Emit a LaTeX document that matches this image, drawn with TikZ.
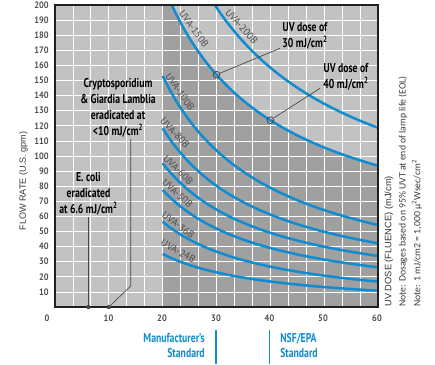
\documentclass[tikz,border=0pt]{standalone}
\usepackage{fontspec}
\setmainfont{PT Sans}
\newfontfamily\condf[FakeStretch=0.76]{PT Sans}
\newfontfamily\tickf[FakeStretch=0.9]{PT Sans}
\newfontfamily\arialf{Liberation Sans}
\newfontfamily\calibf{Carlito}
\definecolor{uvblue}{RGB}{18,140,208}
\definecolor{lightbg}{RGB}{194,194,194}
\definecolor{darkbg}{RGB}{160,160,160}
\definecolor{tickgray}{RGB}{80,80,80}
\definecolor{lblgray}{RGB}{78,78,78}
\definecolor{leadgray}{RGB}{70,70,70}
\definecolor{notegray}{RGB}{60,60,60}
\begin{document}
\begin{tikzpicture}[x=0.75pt,y=-0.75pt,
  gridline/.style={draw=white,line width=0.6pt},
  uvcurve/.style={draw=uvblue,line width=1.9pt},
  curvelbl/.style={text=lblgray,font=\fontsize{7.5}{8}\selectfont,inner sep=0pt},
  annot/.style={font=\condf\bfseries\fontsize{9.6}{12}\selectfont,align=center,inner sep=0pt,text=black},
  ticklbl/.style={font=\tickf\bfseries\fontsize{7}{8}\selectfont,text=tickgray,inner sep=0pt},
  leader/.style={draw=leadgray,line width=0.5pt},
  marker/.style={circle,draw=leadgray,line width=0.6pt,minimum size=5pt,inner sep=0pt},
  dotmark/.style={circle,fill=leadgray,minimum size=3.2pt,inner sep=0pt},
  stdlbl/.style={text=uvblue,font=\condf\bfseries\fontsize{9.6}{11.7}\selectfont,inner sep=0pt},
  stdbar/.style={draw=uvblue,line width=1pt},
  frameline/.style={draw=black!88,line width=1.1pt},
  notelbl/.style={rotate=90,anchor=west,inner sep=0pt,text=notegray}]
\useasboundingbox (0,0) rectangle (435,364);
\fill[white] (0,0) rectangle (435,364);

\begin{scope}[shift={(55,307)},x=4.0373pt,y=1.1325pt]
  \fill[lightbg] (0,0) rectangle (60,200);
  \fill[darkbg] (20,0) -- (20,200) -- plot[domain=21.7:60,samples=60] (\x,{3617/\x+33.3}) -- (60,0) -- cycle;
  \foreach \i in {1,...,17} \draw[gridline] ({\i*10/3},0) -- ({\i*10/3},200);
  \foreach \j in {10,20,...,190} \draw[gridline] (0,\j) -- (60,\j);
  \draw[uvcurve] plot[domain=29.72:60,samples=60] (\x,{4781/\x+39});
  \draw[uvcurve] plot[domain=21.7:60,samples=60] (\x,{3617/\x+33.3});
  \draw[uvcurve] plot[domain=20:60,samples=60] (\x,{2961/\x+4.95});
  \draw[uvcurve] plot[domain=20:60,samples=60] (\x,{2283/\x+4.15});
  \draw[uvcurve] plot[domain=20:60,samples=60] (\x,{1842/\x+3.1});
  \draw[uvcurve] plot[domain=20:60,samples=60] (\x,{1536/\x+0.7});
  \draw[uvcurve] plot[domain=20:60,samples=60] (\x,{1191/\x-3.05});
  \draw[uvcurve] plot[domain=20:60,samples=60] (\x,{729/\x-1.35});
  \node[marker] (c30) at (30,{3617/30+33.3}) {};
  \node[marker] (c40) at (40,{3617/40+33.3}) {};
  \draw[frameline] (0,0) rectangle (60,200);
  \node[dotmark] (d10) at (10,0) {};
  \node[dotmark] (d66) at (6.2,0) {};
\end{scope}

% curve labels
\node[curvelbl,rotate=-48] (l200) at (241.7,26.7) {UVA-200B};
\node[curvelbl,rotate=-54] (l150) at (194,29) {UVA-150B};
\node[curvelbl,rotate=-55] (l100) at (180,91.7) {UVA-100B};
\node[curvelbl,rotate=-47] (l80) at (175,133) {UVA-80B};
\node[curvelbl,rotate=-45] (l60) at (178.3,170) {UVA-60B};
\node[curvelbl,rotate=-43] (l50) at (177.5,193.3) {UVA-50B};
\node[curvelbl,rotate=-37] (l36) at (178.3,225) {UVA-36B};
\node[curvelbl,rotate=-29] (l24) at (178.3,251) {UVA-24B};

% annotations
\node[annot] (crypto) at (118,108) {Cryptosporidium\\\& Giardia Lamblia\\eradicated at\\<10 mJ/cm\textsuperscript{2}};
\node[annot] (ecoli) at (88.5,193.5) {E. coli\\eradicated\\at 6.6 mJ/cm\textsuperscript{2}};
\node[annot] (uv30) at (305,36) {UV dose of\\30 mJ/cm\textsuperscript{2}};
\node[annot] (uv40) at (346,77) {UV dose of\\40 mJ/cm\textsuperscript{2}};

% leaders
\coordinate (l30end) at (280,48.3);
\coordinate (l40end) at (320,88.3);
\draw[leader] (c30) -- (l30end);
\draw[leader] (c40) -- (l40end);
\coordinate (cr1) at (130.7,139);
\coordinate (cr2) at (130.7,286);
\draw[leader] (cr1) -- (cr2) -- (d10);
\coordinate (ec1) at (d66 |- 0,217);
\draw[leader] (ec1) -- (d66);

% axis ticks
\node[ticklbl] (x0) at (47,318) {0};
\foreach \v/\px in {10/108.5,20/162,30/216,40/269.5,50/323,60/377}
  \node[ticklbl] (x\v) at (\px,318) {\v};
\foreach \v in {10,20,...,200}
  \node[ticklbl,anchor=east] (y\v) at (49,{307-1.51*\v}) {\v};

% axis titles
\node[rotate=90,font=\arialf\fontsize{6.8}{8}\selectfont,text=notegray,inner sep=0pt] (ytitle) at (23.5,181) {FLOW RATE (U.S. gpm)};
\node[notelbl,font=\arialf\fontsize{7}{8}\selectfont,text=black!80] (n1) at (389,307) {UV DOSE (FLUENCE) (mJ/cm)};
\node[notelbl,font=\calibf\fontsize{7.3}{8}\selectfont] (n2) at (403,307) {Note: Dosages based on 95\% UVT at end of lamp life (EOL)};
\node[notelbl,font=\calibf\fontsize{7.3}{8}\selectfont] (n3) at (417,307) {Note: 1 mJ/cm2 = 1,000 µ\textsuperscript{2}Wsec/cm\textsuperscript{2}};

% standards
\node[stdlbl,align=right,anchor=east] (manu) at (205,345.5) {Manufacturer’s\\Standard};
\node[stdlbl,align=left,anchor=west] (nsf) at (280,345.5) {NSF/EPA\\Standard};
\coordinate (b1t) at (216,330);
\coordinate (b1b) at (216,364);
\coordinate (b2t) at (269.5,330);
\coordinate (b2b) at (269.5,364);
\draw[stdbar] (b1t) -- (b1b);
\draw[stdbar] (b2t) -- (b2b);
\end{tikzpicture}
\end{document}
